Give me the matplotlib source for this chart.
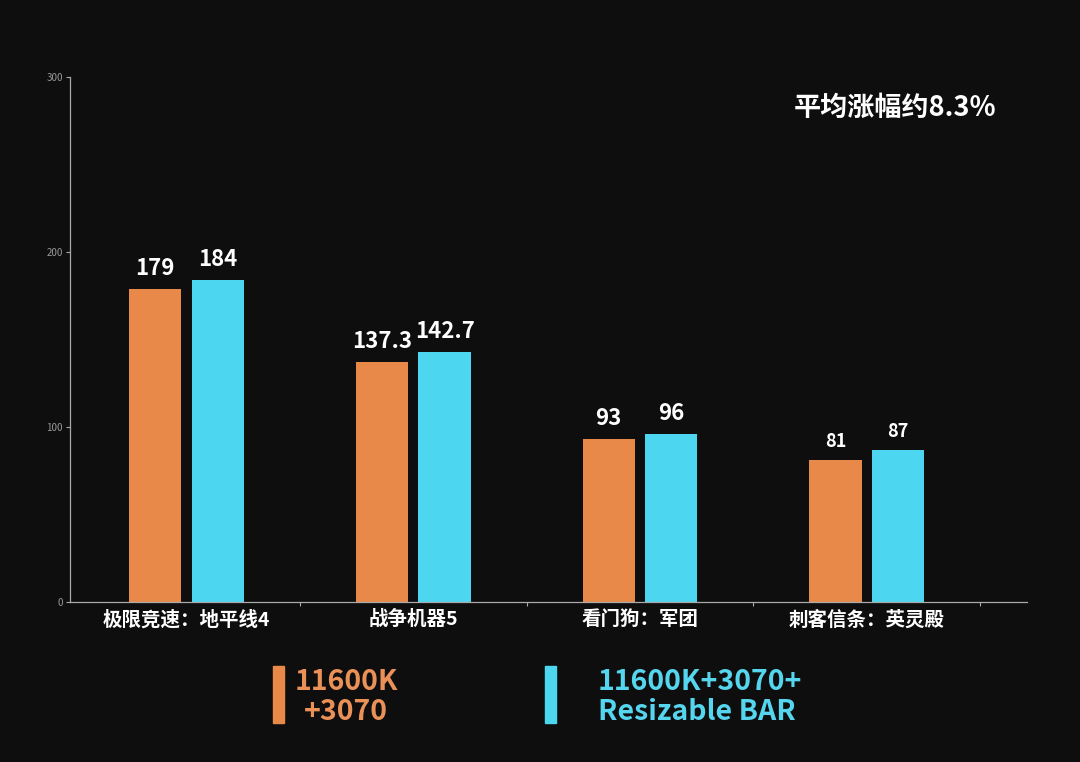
import matplotlib
matplotlib.use('Agg')
import matplotlib.pyplot as plt
from matplotlib.patches import Rectangle
import numpy as np

plt.rcParams['font.family'] = ['Noto Sans CJK SC', 'DejaVu Sans']

games = ['极限竞速：地平线4', '战争机器5', '看门狗：军团', '刺客信条：英灵殿']
base = [179, 137.3, 93, 81]
rebar = [184, 142.7, 96, 87]
base_lbl = ['179', '137.3', '93', '81']
rebar_lbl = ['184', '142.7', '96', '87']
yticks = [0, 100, 200, 300]
legend_names = ['11600K\n+3070', '11600K+3070+\nResizable BAR']
note = '平均涨幅约8.3%'

bg = '#0e0e0e'
orange = '#e8894a'
cyan = '#4dd6f0'

fig = plt.figure(figsize=(10.8, 7.62), dpi=100)
fig.patch.set_facecolor(bg)
ax = fig.add_axes([0.0648, 0.21, 0.886, 0.689])
ax.set_facecolor(bg)

x = np.arange(len(games))
w = 0.23
off = 0.138
ax.bar(x - off, base, w, color=orange, zorder=2)
ax.bar(x + off, rebar, w, color=cyan, zorder=2)

for i in range(len(games)):
    fs = 16 if i < 3 else 13
    ax.text(x[i] - off, base[i] + 5, base_lbl[i], ha='center', va='bottom',
            color='white', fontsize=fs, fontweight='bold')
    ax.text(x[i] + off, rebar[i] + 5, rebar_lbl[i], ha='center', va='bottom',
            color='white', fontsize=fs, fontweight='bold')

ax.set_xlim(-0.514, 3.706)
ax.set_ylim(0, 300)
ax.set_yticks(yticks)
ax.set_yticklabels([str(t) for t in yticks], color='#9a9a9a', fontsize=7)
ax.set_xticks(x)
ax.set_xticklabels(games, color='white', fontsize=14, fontweight='bold')
ax.set_xticks(np.arange(0.5, len(games), 1), minor=True)
ax.tick_params(axis='x', which='major', length=0, pad=6)
ax.tick_params(axis='x', which='minor', length=3, color='#aaaaaa', width=0.8)
ax.tick_params(axis='y', length=3, color='#aaaaaa', width=0.8, pad=2)
for s in ['top', 'right']:
    ax.spines[s].set_visible(False)
for s in ['left', 'bottom']:
    ax.spines[s].set_color('#aaaaaa')
    ax.spines[s].set_linewidth(0.9)

fig.text(895 / 1080, 1 - 108 / 762, note, ha='center', va='center', color='white',
         fontsize=19.5, fontweight='bold')

# legend blocks
fig.patches.append(Rectangle((273 / 1080, 1 - 723 / 762), 11 / 1080, 57 / 762,
                             transform=fig.transFigure, color=orange))
fig.text(346 / 1080, 1 - 697 / 762, legend_names[0], ha='center', va='center',
         color='#ea9158', fontsize=20.5, fontweight='bold', linespacing=1.1,
         multialignment='center')
fig.patches.append(Rectangle((545 / 1080, 1 - 723 / 762), 11 / 1080, 57 / 762,
                             transform=fig.transFigure, color=cyan))
fig.text(598 / 1080, 1 - 697 / 762, legend_names[1], ha='left', va='center',
         color='#55d6ee', fontsize=20.5, fontweight='bold', linespacing=1.1)

fig.savefig('out.png', dpi=100, facecolor=bg)
